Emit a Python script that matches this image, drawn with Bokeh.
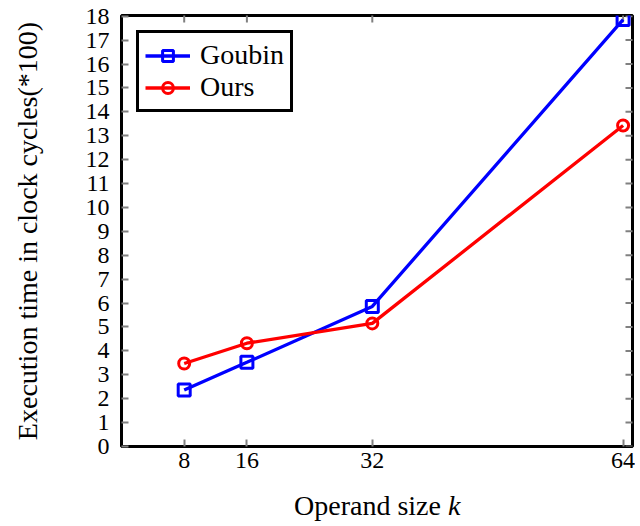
import math
from bokeh.plotting import figure
from bokeh.models import Range1d, FixedTicker, Legend, LegendItem, ColumnDataSource, Div
from bokeh.layouts import column
from bokeh.embed import file_html
from bokeh.resources import INLINE

# ---- data ----
operand_sizes = [8, 16, 32, 64]
goubin = [2.36, 3.52, 5.86, 17.86]
ours = [3.47, 4.32, 5.15, 13.43]
x_ticks = [8, 16, 32, 64]
y_ticks = list(range(0, 19))
x_min, x_max = 0, 65.2
y_min, y_max = 0, 18.03

FONT = "Liberation Serif"
TICK_COLOR = "#808080"

p = figure(width=635, height=482, output_backend="svg", toolbar_location=None,
           x_range=Range1d(x_min, x_max), y_range=Range1d(y_min, y_max),
           min_border_left=121, min_border_right=3, min_border_top=15,
           min_border_bottom=36)
p.background_fill_color = "white"
p.border_fill_color = "white"
p.outline_line_color = "black"
p.outline_line_width = 3
p.outline_line_alpha = 1.0
p.xgrid.visible = False
p.ygrid.visible = False

def style_axis(ax, ticks):
    ax.ticker = FixedTicker(ticks=ticks)
    ax.axis_line_color = None
    ax.major_tick_in = 7
    ax.major_tick_out = 0
    ax.major_tick_line_color = TICK_COLOR
    ax.major_tick_line_width = 2
    ax.minor_tick_line_color = None
    ax.major_label_text_font = FONT
    ax.major_label_text_font_size = "24px"
    ax.major_label_text_color = "black"

xa = p.xaxis[0]
style_axis(xa, x_ticks)
xa.major_label_standoff = 6

ya = p.yaxis[0]
style_axis(ya, y_ticks)
ya.major_label_standoff = 12
ya.axis_label = "Execution time in clock cycles(*100)"
ya.axis_label_text_font = FONT
ya.axis_label_text_font_size = "28px"
ya.axis_label_text_font_style = "normal"
ya.axis_label_text_color = "black"
ya.axis_label_standoff = 40

# mirrored ticks on top and right edges (half of each dash is clipped by the frame)
p.scatter(x=x_ticks, y=[y_max] * len(x_ticks), marker="dash", angle=math.pi / 2,
          size=14, line_color=TICK_COLOR, line_width=2)
p.scatter(x=[x_max] * len(y_ticks), y=y_ticks, marker="dash",
          size=14, line_color=TICK_COLOR, line_width=2)

src = ColumnDataSource(dict(x=operand_sizes, g=goubin, o=ours))

gl = p.line("x", "g", source=src, line_color="#0000ff", line_width=3.3)
gs = p.scatter("x", "g", source=src, marker="square", size=12, line_color="#0000ff",
               line_width=3, fill_color=None)
ol = p.line("x", "o", source=src, line_color="#ff0000", line_width=3.3)
os_ = p.scatter("x", "o", source=src, marker="circle", size=11, line_color="#ff0000",
                line_width=3, fill_color=None)

legend = Legend(items=[LegendItem(label="Goubin", renderers=[gl, gs]),
                       LegendItem(label="Ours", renderers=[ol, os_])],
                location="top_left", margin=15, padding=6, spacing=0,
                glyph_width=45, glyph_height=27, label_height=27,
                label_standoff=10, label_text_font=FONT,
                label_text_font_size="28px", label_text_color="black",
                border_line_color="black",
                border_line_alpha=1.0, border_line_width=3,
                background_fill_alpha=1.0)
p.add_layout(legend, "center")

xlabel = Div(text=('<div style="margin-left:294px;margin-top:10px;'
                   'font-family:\'Liberation Serif\';font-size:28px;line-height:1;'
                   'color:black;white-space:nowrap">Operand size <i>k</i></div>'),
             width=635, height=44, margin=(0, 0, 0, 0))

layout = column(p, xlabel, spacing=0)
open("out.html", "w").write(file_html(layout, INLINE))
